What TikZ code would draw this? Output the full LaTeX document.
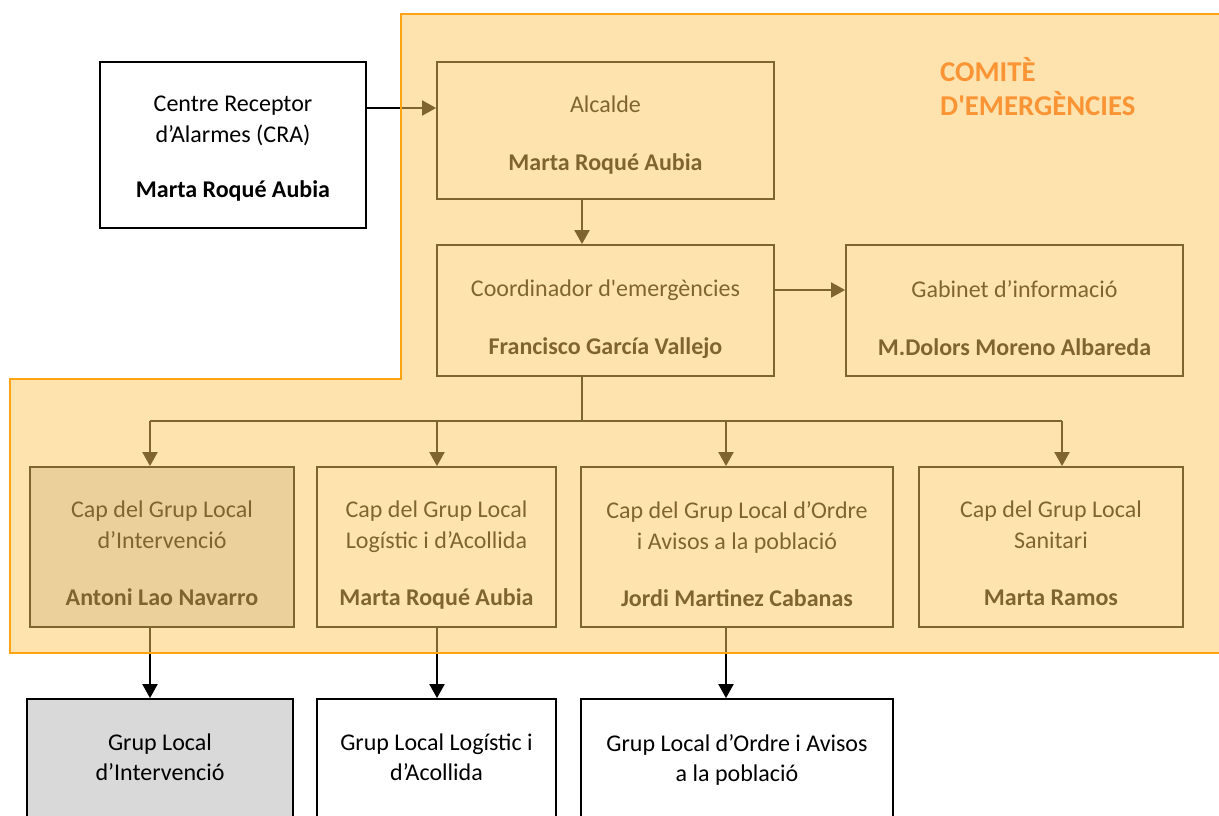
\documentclass[tikz,border=0pt]{standalone}
\usepackage{fontspec}
\newfontfamily\calib{Carlito}
\usetikzlibrary{arrows.meta}
\definecolor{veil}{RGB}{255,201,95}
\definecolor{rimorange}{RGB}{255,163,20}
\definecolor{titleorange}{RGB}{250,148,52}
\definecolor{boxgray}{RGB}{217,217,217}
\begin{document}
\begin{tikzpicture}[x=1pt,y=-1pt,
  box/.style={draw=black, line width=1.8pt, fill=white, inner sep=0pt, rectangle},
  graybox/.style={box, fill=boxgray},
  txt/.style={font=\calib\fontsize{24}{30}\selectfont, align=center, inner sep=0pt, anchor=north, execute at begin node=\strut},
  arr/.style={line width=2pt, -{Triangle[width=15pt,length=14pt]}},
  link/.style={line width=2pt}]
\fill[white] (0,0) rectangle (1219,816);
\useasboundingbox (0,0) rectangle (1219,816);
\clip (0,0) rectangle (1219,816);

% boxes
\node[box, minimum width=266pt, minimum height=166pt] (cra) at (233,145) {};
\node[box, minimum width=337pt, minimum height=137pt] (alc) at (605.5,130.5) {};
\node[box, minimum width=337pt, minimum height=131pt] (coo) at (605.5,310.5) {};
\node[box, minimum width=337pt, minimum height=131pt] (gab) at (1014.5,310.5) {};
\node[graybox, minimum width=264pt, minimum height=160pt] (g1) at (162,547) {};
\node[box, minimum width=239pt, minimum height=160pt] (g2) at (436.5,547) {};
\node[box, minimum width=312pt, minimum height=160pt] (g3) at (737,547) {};
\node[box, minimum width=264pt, minimum height=160pt] (g4) at (1051,547) {};
\node[graybox, minimum width=266pt, minimum height=119pt] (b1) at (160,758.5) {};
\node[box, minimum width=239pt, minimum height=119pt] (b2) at (436.5,758.5) {};
\node[box, minimum width=312pt, minimum height=119pt] (b3) at (737,758.5) {};

% texts
\node[txt] (cra-t) at (233,96) {Centre Receptor\\[1pt]d’Alarmes (CRA)\\[25pt]\textbf{Marta Roqué Aubia}};
\node[txt] (alc-t) at (605.5,96) {Alcalde\\[28pt]\textbf{Marta Roqué Aubia}};
\node[txt] (coo-t) at (605.5,280) {Coordinador d'emergències\\[28pt]\textbf{Francisco García Vallejo}};
\node[txt] (gab-t) at (1014.5,280) {Gabinet d’informació\\[28pt]\textbf{M.Dolors Moreno Albareda}};
\node[txt] (g1-t) at (162,501) {Cap del Grup Local\\[1pt]d’Intervenció\\[27pt]\textbf{Antoni Lao Navarro}};
\node[txt] (g2-t) at (436.5,501) {Cap del Grup Local\\[1pt]Logístic i d’Acollida\\[27pt]\textbf{Marta Roqué Aubia}};
\node[txt] (g3-t) at (737,501) {Cap del Grup Local d’Ordre\\[1pt]i Avisos a la població\\[27pt]\textbf{Jordi Martinez Cabanas}};
\node[txt] (g4-t) at (1051,501) {Cap del Grup Local\\[1pt]Sanitari\\[27pt]\textbf{Marta Ramos}};
\node[txt] (b1-t) at (160,734) {Grup Local\\d’Intervenció};
\node[txt] (b2-t) at (436.5,734) {Grup Local Logístic i\\d’Acollida};
\node[txt] (b3-t) at (737,734) {Grup Local d’Ordre i Avisos\\a la població};

% helper coordinates
\coordinate (spine) at (582,0);
\coordinate (bus) at (0,421);
\coordinate (ay) at (0,108);
\coordinate (gy) at (0,290);
\coordinate (c1) at (150,0);
\coordinate (c2) at (437,0);
\coordinate (c3) at (726,0);
\coordinate (c4) at (1062,0);

% connectors
\draw[arr] (cra.east |- ay) -- (alc.west |- ay);
\draw[arr] (alc.south -| spine) -- (coo.north -| spine);
\draw[arr] (coo.east |- gy) -- (gab.west |- gy);
\draw[link] (coo.south -| spine) -- (spine |- bus);
\draw[link] (c1 |- bus) -- (c4 |- bus);
\draw[arr] (c1 |- bus) -- (c1 |- g1.north);
\draw[arr] (c2 |- bus) -- (c2 |- g2.north);
\draw[arr] (c3 |- bus) -- (c3 |- g3.north);
\draw[arr] (c4 |- bus) -- (c4 |- g4.north);
\draw[arr] (c1 |- g1.south) -- (c1 |- b1.north);
\draw[arr] (c2 |- g2.south) -- (c2 |- b2.north);
\draw[arr] (c3 |- g3.south) -- (c3 |- b3.north);

% comite region (translucent veil)
\fill[veil, fill opacity=0.5] (401,14) -- (1230,14) -- (1230,653) -- (10,653) -- (10,379) -- (401,379) -- cycle;
\draw[rimorange, line width=2pt] (401,14) -- (1230,14) -- (1230,653) -- (10,653) -- (10,379) -- (401,379) -- cycle;

\node[font=\calib\bfseries\fontsize{28.7}{34}\selectfont, text=titleorange, align=left, anchor=north west, inner sep=0pt, execute at begin node=\strut] (title) at (940,57) {COMITÈ\\D'EMERGÈNCIES};
\end{tikzpicture}
\end{document}
